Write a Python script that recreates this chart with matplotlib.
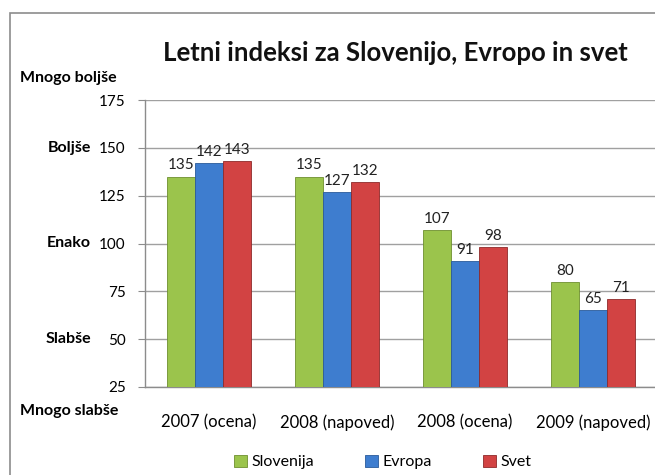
import matplotlib
matplotlib.use("Agg")
import matplotlib.pyplot as plt
import numpy as np
from matplotlib.patches import Rectangle

categories = ["2007 (ocena)", "2008 (napoved)", "2008 (ocena)", "2009 (napoved)"]
series_names = ["Slovenija", "Evropa", "Svet"]
slovenija = [135, 135, 107, 80]
evropa = [142, 127, 91, 65]
svet = [143, 132, 98, 71]
y_ticks = [25, 50, 75, 100, 125, 150, 175]
side_labels = ["Mnogo boljše", "Boljše", "Enako", "Slabše", "Mnogo slabše"]
title = "Letni indeksi za Slovenijo, Evropo in svet"

colors = ["#9BC44C", "#3E7DCF", "#D24343"]
edges = ["#6E8F2F", "#2A5A9A", "#8E2A2A"]

plt.rcParams['font.family'] = ['Lato', 'DejaVu Sans']

W, H = 655, 475
fig = plt.figure(figsize=(W / 100, H / 100), dpi=100)

def fx(px):
    return px / W

def fy(py):
    return 1 - py / H

# outer border
fig.add_artist(Rectangle((fx(10), fy(480)), fx(660) - fx(10), fy(13) - fy(480),
                         transform=fig.transFigure, fill=False,
                         edgecolor="#8c8c8c", linewidth=1.2))

left, right, top, bottom = 145, 657, 100, 387
ax = fig.add_axes([fx(left), fy(bottom), fx(right) - fx(left), fy(top) - fy(bottom)])

x = np.arange(len(categories))
bw = 0.22
data = [slovenija, evropa, svet]
for i, (vals, c, e, name) in enumerate(zip(data, colors, edges, series_names)):
    bars = ax.bar(x + (i - 1) * bw, np.array(vals) - 25, bottom=25, width=bw,
                  color=c, edgecolor=e, linewidth=0.6, label=name, zorder=3)
    ax.bar_label(bars, labels=[str(v) for v in vals], padding=3, fontsize=11,
                 color="#222222")

ax.set_ylim(25, 175)
ax.set_xlim(-0.5, len(categories) - 0.5)
ax.set_yticks(y_ticks)
ax.set_yticklabels([str(t) for t in y_ticks], fontsize=11)
ax.set_xticks(x)
ax.set_xticklabels(categories, fontsize=12)
ax.tick_params(axis='x', length=0, pad=20)
ax.tick_params(axis='y', length=5, color="#8c8c8c", pad=9, direction='out')
ax.yaxis.grid(True, color="#a0a0a0", linewidth=1, zorder=0)
ax.set_axisbelow(True)
for s in ["top", "right"]:
    ax.spines[s].set_visible(False)
for s in ["left", "bottom"]:
    ax.spines[s].set_color("#8c8c8c")
    ax.spines[s].set_linewidth(1)

fig.text(fx(395), fy(53), title, fontsize=18.5, fontweight='bold',
         ha='center', va='center', color="#111111")

fs_side = 11.5
fig.text(fx(20), fy(78), side_labels[0], fontsize=fs_side, fontweight='bold',
         ha='left', va='center')
fig.text(fx(91), fy(148), side_labels[1], fontsize=fs_side, fontweight='bold',
         ha='right', va='center')
fig.text(fx(91), fy(243), side_labels[2], fontsize=fs_side, fontweight='bold',
         ha='right', va='center')
fig.text(fx(91), fy(339), side_labels[3], fontsize=fs_side, fontweight='bold',
         ha='right', va='center')
fig.text(fx(20), fy(411), side_labels[4], fontsize=fs_side, fontweight='bold',
         ha='left', va='center')

handles, labels = ax.get_legend_handles_labels()
fig.legend(handles, labels, loc='center', bbox_to_anchor=(fx(383), fy(462)),
           ncol=3, frameon=False, fontsize=11.5, handlelength=0.8,
           handleheight=0.8, handletextpad=0.3, columnspacing=3.2)

fig.savefig("out.png", dpi=100)
